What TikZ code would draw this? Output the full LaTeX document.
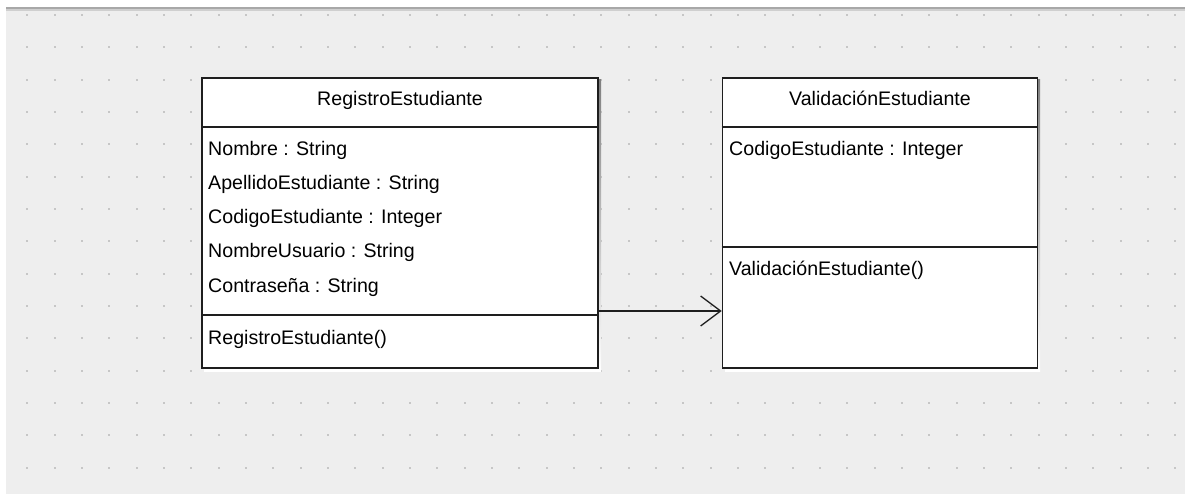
\documentclass[tikz,border=0pt]{standalone}
\usepackage{fontspec}
\setmainfont{Liberation Sans}
\usetikzlibrary{arrows.meta,calc}
\definecolor{canvas}{HTML}{EEEEEE}
\definecolor{griddot}{HTML}{C6C6C6}
\definecolor{edge}{HTML}{1E1E1E}
\definecolor{shade}{HTML}{B4B4B4}
\tikzset{
  classbox/.style={draw=edge, fill=white, line width=1.6pt, inner sep=0pt},
  boxshade/.style={fill=shade, draw=none, inner sep=0pt},
  sepline/.style={draw=edge, line width=1.4pt},
  member/.style={anchor=base west, inner sep=0pt, font=\fontsize{19.6}{22}\selectfont},
  title/.style={anchor=base, inner sep=0pt, font=\fontsize{19.6}{22}\selectfont},
  assoc/.style={draw=edge, line width=1.3pt,
    -{Straight Barb[length=20pt, width=30pt, line width=1.3pt]}},
}
\begin{document}
\begin{tikzpicture}[x=1pt, y=-1pt]
\useasboundingbox (0,0) rectangle (1185,494);
% canvas and top rule
\fill[white] (0,0) rectangle (1185,494);
\fill[canvas] (6,11) rectangle (1185,494);
\fill[black!34] (6,7) rectangle (1185,9);
\fill[black!19] (6,9) rectangle (1185,11);
% dotted grid
\foreach \i in {1,...,43} {
  \foreach \j in {0,...,14} {
    \fill[griddot] ({27.33*\i-1},{15+32.33*\j-1}) rectangle ++(2,2);
  }
}
% shadows
\fill[shade] (204,80) rectangle (601,371);
\fill[shade] (725,80) rectangle (1040,371);
% class RegistroEstudiante
\node[classbox, minimum width=396pt, minimum height=290pt] (reg) at (400,223) {};
\draw[sepline] (reg.west |- 0,127) -- (reg.east |- 0,127);
\draw[sepline] (reg.west |- 0,315) -- (reg.east |- 0,315);
\node[title] (regname) at (400,106) {RegistroEstudiante};
\node[member] (rega1) at (208,156) {Nombre : String};
\node[member] (rega2) at (208,190) {ApellidoEstudiante : String};
\node[member] (rega3) at (208,224) {CodigoEstudiante : Integer};
\node[member] (rega4) at (208,258) {NombreUsuario : String};
\node[member] (rega5) at (208,292) {Contraseña : String};
\node[member] (regm1) at (208,344) {RegistroEstudiante()};
% class ValidaciónEstudiante
\node[classbox, minimum width=315pt, minimum height=290pt] (val) at (880,223) {};
\draw[sepline] (val.west |- 0,127) -- (val.east |- 0,127);
\draw[sepline] (val.west |- 0,247) -- (val.east |- 0,247);
\node[title] (valname) at (880,106) {ValidaciónEstudiante};
\node[member] (vala1) at (729,156) {CodigoEstudiante : Integer};
\node[member] (valm1) at (729,276) {ValidaciónEstudiante()};
% association
\coordinate (arrowrow) at (0,311);
\draw[assoc] (reg.east |- arrowrow) -- (val.west |- arrowrow);
\end{tikzpicture}
\end{document}
